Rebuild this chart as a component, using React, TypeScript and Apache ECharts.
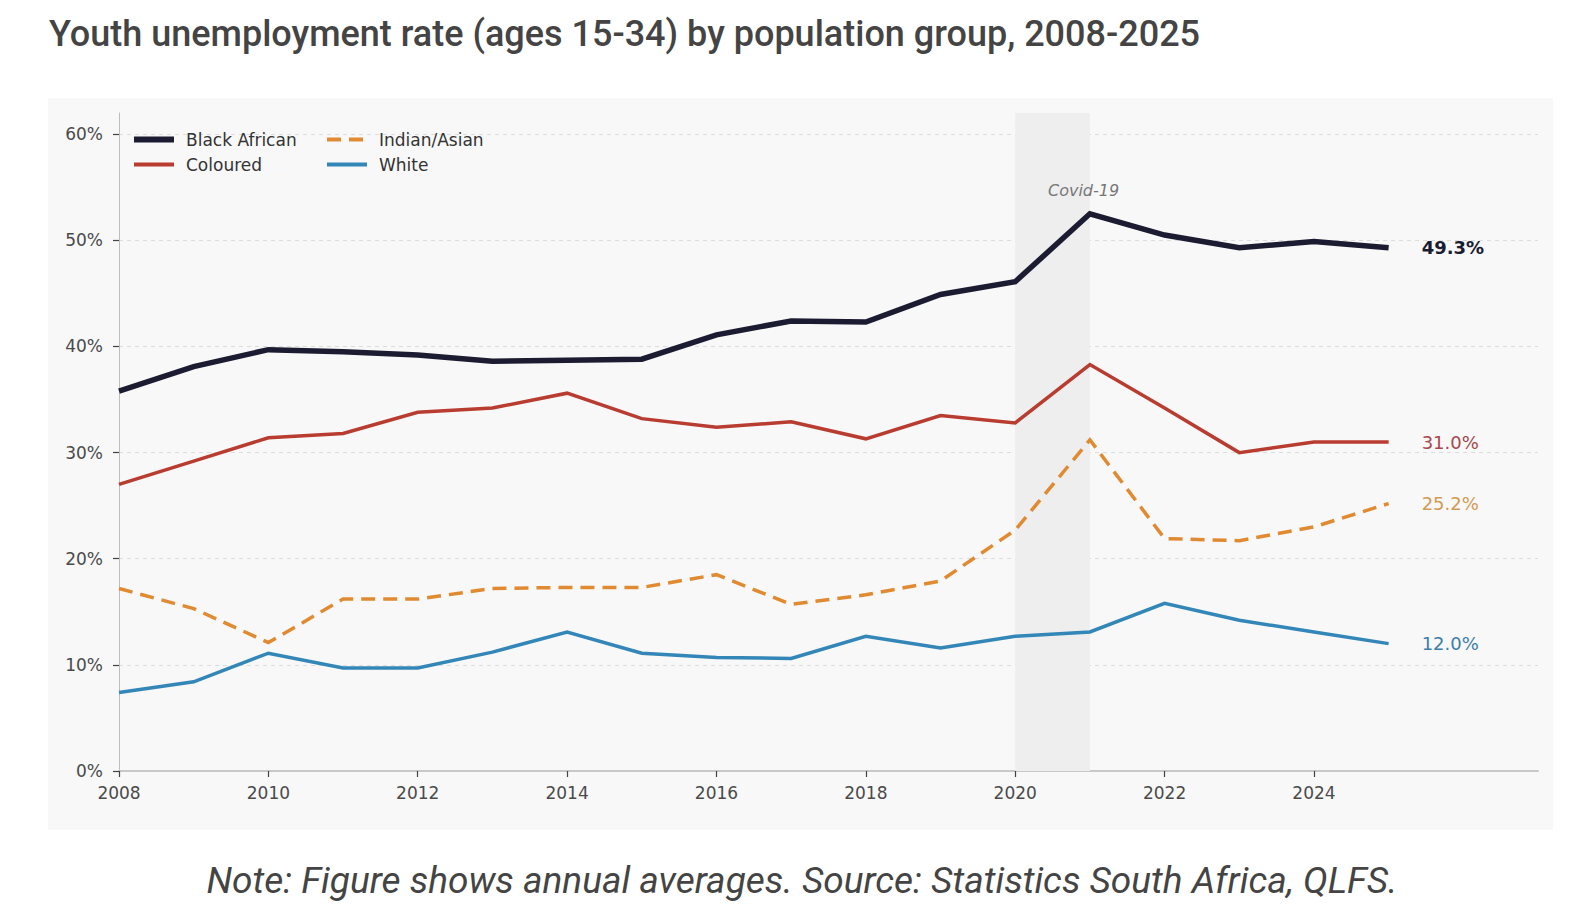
import { useEffect, useRef } from "react";
import * as echarts from "echarts";

// ── Data (annual averages, %) ─────────────────────────────────────────────────
const YEARS = [2008, 2009, 2010, 2011, 2012, 2013, 2014, 2015, 2016, 2017, 2018, 2019, 2020, 2021, 2022, 2023, 2024, 2025];
const BLACK_AFRICAN = [35.8, 38.1, 39.7, 39.5, 39.2, 38.6, 38.7, 38.8, 41.1, 42.4, 42.3, 44.9, 46.1, 52.5, 50.5, 49.3, 49.9, 49.3];
const COLOURED = [27.0, 29.2, 31.4, 31.8, 33.8, 34.2, 35.6, 33.2, 32.4, 32.9, 31.3, 33.5, 32.8, 38.3, 34.2, 30.0, 31.0, 31.0];
const INDIAN_ASIAN = [17.2, 15.3, 12.1, 16.2, 16.2, 17.2, 17.3, 17.3, 18.5, 15.7, 16.6, 17.9, 22.7, 31.2, 21.9, 21.7, 23.0, 25.2];
const WHITE = [7.4, 8.4, 11.1, 9.7, 9.7, 11.2, 13.1, 11.1, 10.7, 10.6, 12.7, 11.6, 12.7, 13.1, 15.8, 14.2, 13.1, 12.0];

const Y_TICKS = [0, 10, 20, 30, 40, 50, 60];
const X_TICKS = [2008, 2010, 2012, 2014, 2016, 2018, 2020, 2022, 2024];
const COVID_SPAN = [2020, 2021];

const TITLE = "Youth unemployment rate (ages 15-34) by population group, 2008-2025";
const NOTE = "Note: Figure shows annual averages. Source: Statistics South Africa, QLFS.";

// ── Style helpers ─────────────────────────────────────────────────────────────
const MPL_FONT = "'DejaVu Sans', sans-serif";
const TICK_LABEL = { color: "#4a4a4a", fontSize: 17, fontFamily: MPL_FONT };
const LEGEND_TEXT = { color: "#333", fontSize: 17, fontFamily: MPL_FONT, padding: [0, 0, 0, 7] };
const DASH = [14, 8];

const pairs = (vals: number[]) => YEARS.map((y, i) => [y, vals[i]]);

function lineSeries(name: string, vals: number[], color: string, width: number, labelColor: string, opts: { dashed?: boolean; bold?: boolean } = {}) {
  return {
    name,
    type: "line" as const,
    data: pairs(vals),
    symbol: "none",
    z: 3,
    lineStyle: { color, width, type: opts.dashed ? DASH : "solid", cap: "butt", join: "miter" },
    itemStyle: { color },
    endLabel: {
      show: true,
      distance: 33,
      formatter: (p: { value: number[] }) => `${p.value[1].toFixed(1)}%`,
      color: labelColor,
      fontSize: 18,
      fontFamily: MPL_FONT,
      fontWeight: opts.bold ? "bold" : "normal",
    },
  };
}

type LegendItem = { name: string; width: number; dashed?: boolean };

function legendBlock(left: number, items: LegendItem[]) {
  return {
    orient: "vertical" as const,
    left,
    top: 131,
    padding: 0,
    itemWidth: 40,
    itemHeight: 14,
    itemGap: 8,
    itemStyle: { opacity: 0 },
    data: items.map((it) => ({
      name: it.name,
      lineStyle: { width: it.width, type: it.dashed ? DASH : "solid", cap: "butt" },
    })),
    textStyle: LEGEND_TEXT,
  };
}

export default function App() {
  const ref = useRef<HTMLDivElement>(null);

  useEffect(() => {
    const el = ref.current;
    if (!el) return;
    const chart = echarts.init(el, null, { renderer: "svg" });
    chart.setOption({
      animation: false,
      backgroundColor: "transparent",
      title: {
        text: TITLE,
        left: 44,
        top: 11,
        textStyle: { fontFamily: "Roboto", fontSize: 36, fontWeight: 500, color: "#444" },
      },
      legend: [
        legendBlock(131, [{ name: "Black African", width: 6 }, { name: "Coloured", width: 4 }]),
        legendBlock(325, [{ name: "Indian/Asian", width: 4, dashed: true }, { name: "White", width: 4 }]),
      ],
      grid: { left: 119, right: 34, top: 113, bottom: 147, containLabel: false },
      xAxis: {
        type: "value",
        min: 2008,
        max: 2027,
        axisLine: { show: true, lineStyle: { color: "#c8c8c8", width: 2 } },
        axisTick: { show: true, length: 6, customValues: X_TICKS, lineStyle: { color: "#444", width: 1.2 } },
        axisLabel: { ...TICK_LABEL, margin: 13, customValues: X_TICKS, formatter: (v: number) => String(v) },
        splitLine: { show: false },
      },
      yAxis: {
        type: "value",
        min: 0,
        max: 62,
        axisLine: { show: true, lineStyle: { color: "#bdbdbd", width: 1 } },
        axisTick: { show: true, length: 6, customValues: Y_TICKS, lineStyle: { color: "#444", width: 1.2 } },
        axisLabel: { ...TICK_LABEL, margin: 16, customValues: Y_TICKS, formatter: (v: number) => `${v}%` },
        splitLine: { show: true, lineStyle: { color: "#dcdcdc", type: [4, 4], width: 1 } },
      },
      graphic: [
        {
          type: "text",
          x: 802,
          y: 880,
          style: {
            text: NOTE,
            fontFamily: "Roboto",
            fontStyle: "italic",
            fontSize: 37,
            fill: "#444",
            align: "center",
            verticalAlign: "middle",
          },
        },
      ],
      series: [
        {
          name: "covid",
          type: "line",
          data: [],
          z: 1,
          markArea: {
            silent: true,
            itemStyle: { color: "#eeeeee" },
            label: {
              show: true,
              position: "insideTop",
              offset: [31, 64],
              color: "#777",
              fontStyle: "italic",
              fontSize: 16,
              fontFamily: MPL_FONT,
            },
            data: [[{ name: "Covid-19", xAxis: COVID_SPAN[0] }, { xAxis: COVID_SPAN[1] }]],
          },
        },
        lineSeries("White", WHITE, "#3386b8", 3.5, "#3d7fa8"),
        lineSeries("Indian/Asian", INDIAN_ASIAN, "#e08a32", 3.5, "#d39a52", { dashed: true }),
        lineSeries("Coloured", COLOURED, "#b93c30", 3.5, "#a8474c"),
        lineSeries("Black African", BLACK_AFRICAN, "#1b1c31", 5.5, "#1b1c31", { bold: true }),
      ],
    });
    return () => chart.dispose();
  }, []);

  return (
    <div style={{ position: "absolute", left: 0, top: 0, width: 1572, height: 918, background: "#fff" }}>
      <div style={{ position: "absolute", left: 48, top: 98, width: 1505, height: 732, background: "#f8f8f8" }} />
      <div ref={ref} style={{ position: "absolute", left: 0, top: 0, width: 1572, height: 918 }} />
    </div>
  );
}
